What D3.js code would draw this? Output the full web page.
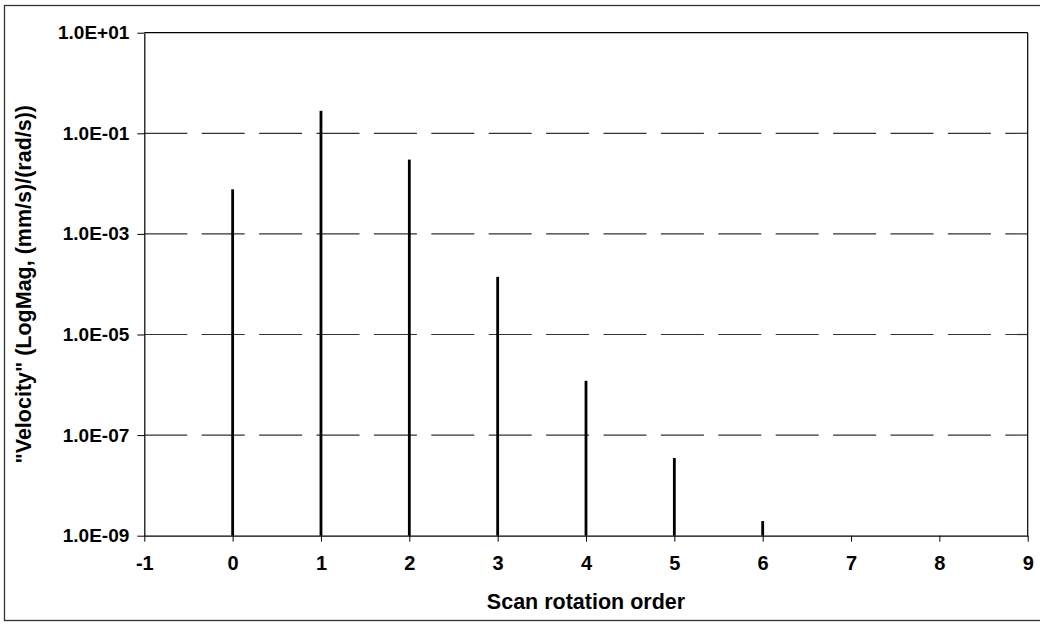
<!DOCTYPE html>
<html>
<head>
<meta charset="utf-8">
<script src="https://cdn.jsdelivr.net/npm/d3@7"></script>
<style>
  body { margin: 0; background: #fff; }
  text { font-family: Arial, "Liberation Sans", sans-serif; font-weight: bold; fill: #000; }
</style>
</head>
<body>
<svg id="chart" width="1040" height="628"></svg>
<script>
// data
var orders = [0, 1, 2, 3, 4, 5, 6];
var velocity = [7.7e-3, 0.28, 0.030, 1.4e-4, 1.2e-6, 3.5e-8, 1.95e-9];
var xTicks = [-1, 0, 1, 2, 3, 4, 5, 6, 7, 8, 9];
var yTicks = [1e1, 1e-1, 1e-3, 1e-5, 1e-7, 1e-9];
var yTickLabels = ["1.0E+01", "1.0E-01", "1.0E-03", "1.0E-05", "1.0E-07", "1.0E-09"];

// set the dimensions and margins of the plot area
var margin = {top: 32.7, right: 12.3, bottom: 92.3, left: 144.3},
    width = 1040 - margin.left - margin.right,
    height = 628 - margin.top - margin.bottom;

var svg = d3.select("#chart");

// outer chart frame
svg.append("rect")
  .attr("x", 4.5).attr("y", 5.5)
  .attr("width", 1060).attr("height", 615)
  .attr("fill", "none")
  .attr("stroke", "#333")
  .attr("stroke-width", 1.3);

var g = svg.append("g")
  .attr("transform", "translate(" + margin.left + "," + margin.top + ")");

// scales
var x = d3.scaleLinear().domain([-1, 9]).range([0, width]);
var y = d3.scaleLog().domain([1e-9, 1e1]).range([height, 0]);

// dashed gridlines
g.selectAll(".grid")
  .data(yTicks.slice(1, yTicks.length - 1))
  .enter().append("line")
  .attr("x1", 0).attr("x2", width)
  .attr("y1", function(d) { return y(d); })
  .attr("y2", function(d) { return y(d); })
  .attr("stroke", "#333")
  .attr("stroke-width", 1.2)
  .attr("stroke-dasharray", "43,14.4");

// plot area top and right edges
g.append("line").attr("x1", 0).attr("x2", width).attr("y1", 0).attr("y2", 0)
  .attr("stroke", "#000").attr("stroke-width", 1.2);
g.append("line").attr("x1", width).attr("x2", width).attr("y1", 0).attr("y2", height)
  .attr("stroke", "#000").attr("stroke-width", 1.2);

// bars
g.selectAll(".bar")
  .data(orders)
  .enter().append("rect")
  .attr("class", "bar")
  .attr("x", function(d) { return x(d) - 1.4; })
  .attr("width", 2.8)
  .attr("y", function(d, i) { return y(velocity[i]); })
  .attr("height", function(d, i) { return height - y(velocity[i]); })
  .attr("fill", "#000");

// X axis
var xAxis = g.append("g")
  .attr("transform", "translate(0," + height + ")")
  .call(d3.axisBottom(x).tickValues(xTicks).tickSize(6).tickSizeOuter(0).tickPadding(14)
    .tickFormat(function(d) { return String(d); }));
xAxis.select(".domain").attr("stroke", "#000").attr("stroke-width", 1.2);
xAxis.selectAll("line").attr("stroke", "#000");
xAxis.selectAll("text").attr("font-size", "20px").attr("font-family", null);

// Y axis
var yAxis = g.append("g")
  .call(d3.axisLeft(y).tickValues(yTicks).tickSize(7).tickSizeOuter(0).tickPadding(8)
    .tickFormat(function(d, i) { return yTickLabels[i]; }));
yAxis.select(".domain").attr("stroke", "#000").attr("stroke-width", 1.2);
yAxis.selectAll("line").attr("stroke", "#000");
yAxis.selectAll("text").attr("font-size", "19px").attr("font-family", null);

// axis titles
svg.append("text")
  .attr("x", margin.left + width / 2)
  .attr("y", 609)
  .attr("text-anchor", "middle")
  .attr("font-size", "21.5px")
  .text("Scan rotation order");

svg.append("text")
  .attr("transform", "translate(31," + (margin.top + height / 2) + ") rotate(-90)")
  .attr("text-anchor", "middle")
  .attr("font-size", "21.5px")
  .text("\"Velocity\" (LogMag, (mm/s)/(rad/s))");
</script>
</body>
</html>
